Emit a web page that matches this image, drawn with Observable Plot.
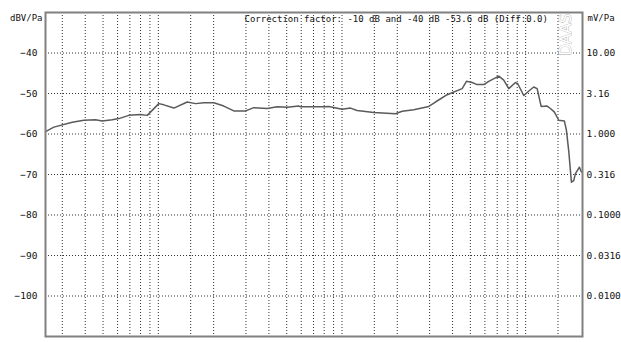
<!DOCTYPE html>
<html>
<head>
<meta charset="utf-8">
<script src="https://cdn.jsdelivr.net/npm/d3@7"></script>
<script src="https://cdn.jsdelivr.net/npm/@observablehq/plot@0.6"></script>
<style>
  html, body { margin: 0; padding: 0; background: #fff; }
</style>
</head>
<body>
<div id="chart"></div>
<script>
// Frequency response (Hz) and sensitivity (dBV/Pa)
const freqs = [24.3, 27.0, 34.0, 39.3, 45.5, 49.5, 56.1, 61.0, 69.1, 80.0, 87.0, 100.6, 107.1, 121.5, 143.6, 159.4, 176.9, 200.5, 227.3, 257.6, 298.4, 331.1, 391.5, 443.9, 503.2, 582.1, 594.6, 796, 847.5, 1002.5, 1112.7, 1209, 1489, 1955, 2127, 2460, 2969, 3228, 3738, 4512, 4762, 5114, 5445, 5914, 6297, 7139, 7601, 8091, 8802, 9058, 9766, 10527, 11068, 11552, 12146, 13092, 13646, 14350, 15143, 16263, 16677, 17160, 17756, 18274, 18669, 19626, 20125];
const levels = [-59.4, -58.3, -57.1, -56.6, -56.5, -56.8, -56.5, -56.2, -55.4, -55.2, -55.4, -52.5, -52.8, -53.6, -52.1, -52.5, -52.3, -52.3, -53.1, -54.3, -54.3, -53.5, -53.7, -53.3, -53.4, -53.1, -53.3, -53.3, -53.2, -53.9, -53.6, -54.2, -54.7, -55.0, -54.4, -54.0, -53.2, -52.1, -50.3, -48.8, -47.0, -47.3, -47.8, -47.8, -47.0, -45.7, -46.7, -48.8, -47.3, -47.6, -50.5, -49.2, -48.4, -48.8, -53.2, -53.1, -53.7, -54.6, -56.6, -56.8, -59.1, -64.1, -71.9, -71.5, -69.8, -68.2, -69.4];

// Grid / ticks
const xGrid = [30, 40, 50, 60, 70, 80, 90, 100, 150, 200, 300, 400, 500, 600, 700, 800, 900, 1000, 1500, 2000, 3000, 4000, 5000, 6000, 7000, 8000, 9000, 10000, 15000];
const yTicks = [-100, -90, -80, -70, -60, -50, -40];
const mvLabels = ["0.0100", "0.0316", "0.1000", "0.316", "1.000", "3.16", "10.00"];
const xDomain = [24.3, 20400];
const yDomain = [-110, -30];
const leftUnit = "dBV/Pa";
const rightUnit = "mV/Pa";
const correction = "Correction factor: -10 dB and -40 dB -53.6 dB (Diff:0.0)";
const watermark = "DAAS";

const data = freqs.map((f, i) => ({f, v: levels[i]}));

const chart = Plot.plot({
  width: 621,
  height: 342,
  marginLeft: 45,
  marginRight: 39,
  marginTop: 12,
  marginBottom: 6,
  style: {fontFamily: "'DejaVu Sans Mono', monospace", fontSize: "9.5px", color: "#111", background: "#fff"},
  x: {type: "log", domain: xDomain, axis: null},
  y: {domain: yDomain, axis: null},
  marks: [
    Plot.ruleX(xGrid, {stroke: "#333", strokeDasharray: "1,2", strokeWidth: 1}),
    Plot.ruleY(yTicks, {stroke: "#333", strokeDasharray: "1,2", strokeWidth: 1}),
    Plot.line(data, {x: "f", y: "v", stroke: "#5a5a5a", strokeWidth: 1.5, curve: "linear"}),
    Plot.frame({stroke: "#808080", strokeWidth: 2}),
    Plot.axisY(yTicks, {anchor: "left", tickSize: 0, tickPadding: 8, fontSize: 9.5, label: null}),
    Plot.axisY(yTicks, {anchor: "right", tickSize: 0, tickPadding: 4, fontSize: 9.5, label: null,
      tickFormat: d => mvLabels[yTicks.indexOf(d)]}),
    Plot.text([leftUnit], {frameAnchor: "top-left", dx: -3, dy: 6, textAnchor: "end", lineAnchor: "middle", fontSize: 9}),
    Plot.text([rightUnit], {frameAnchor: "top-right", dx: 5, dy: 6, textAnchor: "start", lineAnchor: "middle", fontSize: 9}),
    Plot.text([correction], {frameAnchor: "top-left", dx: 199, dy: 7, textAnchor: "start", lineAnchor: "middle", fontSize: 9}),
    Plot.text([watermark], {frameAnchor: "top-right", dx: -16, dy: 22, rotate: -90, fontSize: 15,
      textAnchor: "middle", lineAnchor: "middle",
      fill: "white", stroke: "#aaa", strokeWidth: 0.8, fontFamily: "'DejaVu Sans', sans-serif"})
  ]
});
document.getElementById("chart").appendChild(chart);
</script>
</body>
</html>
